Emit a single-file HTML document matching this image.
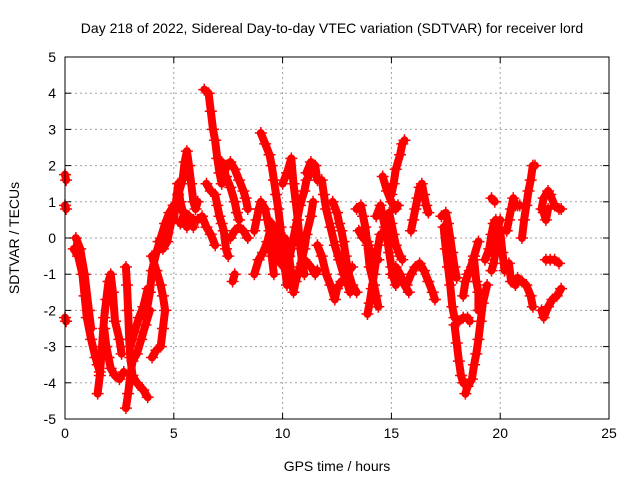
<!DOCTYPE html>
<html><head><meta charset="utf-8"><style>
body{margin:0;background:#fff;}
svg text{font-family:"Liberation Sans",sans-serif;font-size:14px;fill:#000;}
</style></head><body>
<svg id="chart" width="640" height="480" xmlns="http://www.w3.org/2000/svg">
<rect width="640" height="480" fill="#fff"/>
<text x="332" y="33" text-anchor="middle">Day 218 of 2022, Sidereal Day-to-day VTEC variation (SDTVAR) for receiver lord</text>
<text x="337" y="471" text-anchor="middle">GPS time / hours</text>
<text transform="translate(19,238) rotate(-90)" text-anchor="middle">SDTVAR / TECUs</text>
<g id="grid"></g>
<g id="marks"></g>
<rect x="65" y="57" width="544" height="362" fill="none" stroke="#000" stroke-width="1"/>
<g id="ticks"></g>
</svg>
<script>
const xTicks=[0,5,10,15,20,25];
const yTicks=[-5,-4,-3,-2,-1,0,1,2,3,4,5];
const tracks=[
[[0,1.75],[0.05,1.6]],[[0,0.9],[0.05,0.8]],[[0,-2.2],[0.05,-2.3]],
[[0.4,-0.3],[0.6,-0.5],[0.8,-1.0],[0.9,-1.6],[1.0,-2.2],[1.2,-2.8],[1.4,-3.3],[1.5,-3.5],[1.6,-3.7]],
[[0.5,0.0],[0.7,-0.3],[0.9,-1.0],[1.1,-2.0],[1.2,-2.5]],
[[1.5,-4.3],[1.6,-3.8],[1.7,-3.0],[1.8,-2.2],[1.9,-1.7],[2.0,-1.2],[2.1,-1.0],[2.2,-1.5],[2.3,-2.3],[2.5,-2.8],[2.6,-3.2]],
[[1.8,-2.5],[1.9,-3.0],[2.0,-3.3],[2.1,-3.6],[2.3,-3.8],[2.5,-3.9],[2.7,-3.7]],
[[2.8,-0.8],[2.85,-1.3],[2.9,-2.0],[2.95,-2.8],[3.0,-3.3],[3.1,-3.8],[3.3,-4.0],[3.6,-4.2],[3.8,-4.4]],
[[2.8,-4.7],[2.9,-4.3],[3.0,-3.8],[3.1,-3.4],[3.3,-3.2],[3.5,-2.8],[3.7,-2.4],[3.9,-2.0]],
[[3.0,-3.0],[3.2,-2.6],[3.4,-2.2],[3.6,-1.9],[3.8,-1.4]],
[[3.7,-2.2],[3.9,-1.5],[4.0,-0.9],[4.2,-0.4],[4.4,0.0],[4.6,0.4],[4.8,0.7],[5.0,0.9]],
[[4.0,-0.5],[4.2,-0.9],[4.4,-1.3],[4.5,-1.6],[4.6,-2.0],[4.5,-2.5],[4.4,-3.0],[4.2,-3.1],[4.0,-3.3]],
[[4.3,-0.1],[4.5,-0.3],[4.7,-0.1],[4.9,0.5],[5.0,0.9]],
[[5.1,0.8],[5.2,1.2],[5.4,1.6],[5.5,2.1],[5.6,2.4],[5.7,2.0],[5.8,1.5],[5.9,1.0],[6.0,0.8],[6.1,1.0]],
[[5.3,0.4],[5.5,0.7],[5.7,0.6],[5.9,0.5],[6.1,0.5],[6.3,0.6],[6.5,0.3],[6.7,0.1],[6.9,-0.2]],
[[5.0,0.5],[5.2,1.5],[5.3,1.0],[5.6,0.3],[5.8,0.5],[5.9,0.3]],
[[6.4,4.1],[6.6,4.0],[6.7,3.5],[6.8,3.0],[6.9,2.7],[7.0,2.2],[7.1,1.8],[7.2,1.5],[7.3,1.6],[7.4,2.0],[7.6,2.1],[7.8,1.9],[8.0,1.6],[8.2,1.3],[8.3,1.1],[8.4,0.8]],
[[6.5,1.5],[6.7,1.3],[6.9,1.2],[7.0,0.9],[7.1,0.6],[7.2,0.4],[7.3,0.2],[7.4,-0.3],[7.5,-0.5]],
[[7.6,0.0],[7.8,0.2],[8.0,0.3],[8.2,0.2],[8.4,0.0]],
[[7.7,-1.2],[7.8,-1.0]],
[[7.2,2.1],[7.4,1.7],[7.6,1.4],[7.8,1.0],[7.9,0.7],[8.0,0.5]],
[[8.7,0.2],[8.8,0.5],[8.9,0.8],[9.0,1.0],[9.2,0.8],[9.3,0.5],[9.4,0.2],[9.5,-0.5],[9.6,-1.0]],
[[9.0,2.9],[9.2,2.6],[9.4,2.3],[9.5,2.0],[9.6,1.6],[9.7,1.2],[9.8,0.8],[9.9,0.3],[10.0,-0.4],[10.1,-0.8],[10.2,-1.3]],
[[8.7,-1.0],[8.9,-0.6],[9.1,-0.4],[9.3,-0.1],[9.5,0.4],[9.6,0.2],[9.8,-0.5],[9.9,-0.7]],
[[10.0,1.5],[10.2,1.8],[10.4,2.2],[10.5,1.5],[10.6,1.0],[10.7,0.5],[10.8,-0.2],[10.9,-0.7],[11.0,-1.0]],
[[10.1,0.0],[10.3,-0.5],[10.4,-1.0],[10.5,-1.5],[10.6,-1.2],[10.8,-0.8],[11.0,-0.3],[11.1,0.1],[11.3,0.6],[11.4,1.0]],
[[10.2,-0.9],[10.4,-0.3],[10.6,0.3],[10.8,0.9],[11.0,1.3],[11.1,1.6],[11.3,1.8]],
[[11.1,1.8],[11.3,2.1],[11.5,2.0],[11.6,1.6]],
[[11.0,-0.6],[11.3,-0.8],[11.5,-1.0],[11.6,-0.9]],
[[11.8,1.6],[11.9,1.2],[12.0,0.8],[12.2,0.3],[12.4,-0.2],[12.6,-0.6],[12.8,-1.0],[13.0,-1.3],[13.1,-1.5]],
[[11.6,-0.2],[11.8,-0.5],[12.0,-1.0],[12.2,-1.3],[12.4,-1.7],[12.5,-1.4],[12.7,-1.2]],
[[12.3,1.0],[12.5,0.7],[12.6,0.4],[12.7,0.2],[12.8,-0.1],[12.9,-0.5],[13.0,-0.9],[13.2,-1.3],[13.4,-1.5]],
[[12.6,-0.5],[12.8,-0.7],[13.0,-0.9],[13.2,-0.8]],
[[13.4,0.8],[13.6,0.9],[13.7,0.6],[13.8,0.3],[13.9,-0.2],[14.0,-0.8],[14.2,-1.3],[14.3,-1.6],[14.4,-1.9]],
[[13.9,-2.1],[14.0,-1.8],[14.1,-1.4],[14.2,-1.0],[14.3,-0.6],[14.4,-0.2],[14.5,0.1]],
[[13.5,0.2],[13.7,0.0],[13.9,-0.1],[14.0,-0.3],[14.2,-0.5],[14.4,-0.6]],
[[14.3,0.6],[14.5,0.9],[14.6,0.6],[14.7,0.3],[14.8,0.0],[14.9,-0.4],[15.0,-0.8],[15.1,-1.1],[15.2,-1.3]],
[[14.6,1.7],[14.8,1.3],[15.0,1.0],[15.2,0.8],[15.3,0.9]],
[[15.0,1.2],[15.1,1.5],[15.2,1.9],[15.4,2.3],[15.5,2.6],[15.6,2.7]],
[[14.9,0.7],[15.0,0.4],[15.1,0.1],[15.2,-0.2],[15.4,-0.5],[15.5,-0.6]],
[[15.0,-1.0],[15.2,-0.8],[15.4,-1.0],[15.6,-1.3],[15.8,-1.5]],
[[15.7,-1.3],[15.9,-1.0],[16.1,-0.8],[16.3,-0.7],[16.5,-0.9],[16.7,-1.2],[16.9,-1.5],[17.0,-1.7]],
[[15.9,0.2],[16.0,0.5],[16.1,0.8],[16.2,1.1],[16.3,1.4],[16.4,1.5],[16.5,1.2],[16.6,0.9],[16.7,0.7]],
[[17.3,0.6],[17.5,0.7],[17.6,0.4],[17.7,0.0],[17.8,-0.4],[17.9,-0.8],[18.0,-1.1]],
[[17.4,0.3],[17.5,-0.3],[17.6,-0.8],[17.7,-1.3],[17.8,-1.9],[17.9,-2.2],[18.1,-2.3],[18.3,-2.2],[18.5,-2.2],[18.6,-2.3]],
[[17.9,-2.4],[18.0,-2.9],[18.1,-3.4],[18.2,-3.8],[18.3,-4.0]],
[[18.4,-4.3],[18.5,-4.1],[18.7,-3.9],[18.8,-3.5],[18.9,-3.2],[19.0,-2.8],[19.1,-2.3],[19.2,-1.8],[19.4,-1.3]],
[[18.5,-1.0],[18.7,-0.8],[18.8,-0.6],[18.9,-1.2],[19.0,-1.5],[19.0,-2.0]],
[[18.3,-1.6],[18.4,-1.2],[18.6,-0.9],[18.8,-0.5],[19.0,-0.1]],
[[19.3,-0.6],[19.5,-0.3],[19.6,0.1],[19.7,0.4],[19.8,0.5],[19.9,0.3],[20.0,0.5]],
[[19.6,-0.9],[19.7,-0.7],[19.8,-0.3],[19.9,0.1],[20.0,0.2],[20.1,-0.4],[20.2,-0.9]],
[[19.6,1.1],[19.75,1.0]],
[[20.3,0.2],[20.4,0.5],[20.5,0.8],[20.6,1.1],[20.7,0.9],[20.8,0.9],[20.9,0.9]],
[[20.4,-0.7],[20.5,-1.2],[20.7,-1.3]],
[[21.0,0.0],[21.1,0.5],[21.2,0.9],[21.3,1.3],[21.4,1.6],[21.5,2.0],[21.6,2.0]],
[[20.8,-1.1],[21.0,-1.2],[21.2,-1.3],[21.4,-1.6],[21.5,-1.9]],
[[21.9,0.8],[22.0,1.1],[22.2,1.3],[22.3,1.2],[22.5,0.9],[22.7,0.8],[22.8,0.8]],
[[22.0,0.7],[22.1,0.5],[22.2,0.8]],
[[22.1,-0.6],[22.3,-0.6],[22.5,-0.6],[22.7,-0.7]],
[[21.9,-2.0],[22.0,-2.2],[22.2,-1.9],[22.4,-1.7],[22.6,-1.6],[22.8,-1.4]]
];
const X0=65,X1=609,Y0=419,Y1=57;
const sx=t=>X0+(t-0)/(25-0)*(X1-X0);
const sy=v=>Y0-(v+5)/10*(Y0-Y1);
const NS="http://www.w3.org/2000/svg";
const grid=document.getElementById('grid'),ticks=document.getElementById('ticks'),marks=document.getElementById('marks');
function mk(tag,attrs,parent){const e=document.createElementNS(NS,tag);for(const k in attrs)e.setAttribute(k,attrs[k]);parent.appendChild(e);return e;}
xTicks.forEach(t=>{const x=sx(t);
 if(t>0&&t<25){const g=mk('line',{x1:x,x2:x,y1:Y1,y2:Y0,stroke:'#a0a0a0','stroke-dasharray':'2,3'},grid);
 
 }
 mk('line',{x1:x,x2:x,y1:Y0,y2:Y0-6,stroke:'#000'},ticks);
 mk('line',{x1:x,x2:x,y1:Y1,y2:Y1+6,stroke:'#000'},ticks);
 const l=mk('text',{x:x,y:Y0+19,'text-anchor':'middle'},ticks);l.textContent=t;
 
 
});
yTicks.forEach(v=>{const y=sy(v);
 if(v>-5&&v<5){const g=mk('line',{x1:X0,x2:X1,y1:y,y2:y,stroke:'#a0a0a0','stroke-dasharray':'2,3'},grid);
 
 }
 mk('line',{x1:X0,x2:X0+6,y1:y,y2:y,stroke:'#000'},ticks);
 mk('line',{x1:X1,x2:X1-6,y1:y,y2:y,stroke:'#000'},ticks);
 const l=mk('text',{x:X0-9,y:y+5,'text-anchor':'end'},ticks);l.textContent=v;
 
 
});
tracks.forEach(tr=>{
 const pts=tr.map(p=>sx(p[0]).toFixed(1)+','+sy(p[1]).toFixed(1)).join(' ');
 const pl=mk('polyline',{points:pts,fill:'none',stroke:'#ff0000','stroke-width':8,'stroke-linejoin':'round','stroke-linecap':'round'},marks);
 
 
 tr.forEach(p=>{const x=sx(p[0]),y=sy(p[1]);
  const m=mk('path',{d:`M${x-6},${y}H${x+6}M${x},${y-6}V${y+6}`,stroke:'#ff0000','stroke-width':1.5},marks);
  
  
 });
});
</script>
</body></html>
